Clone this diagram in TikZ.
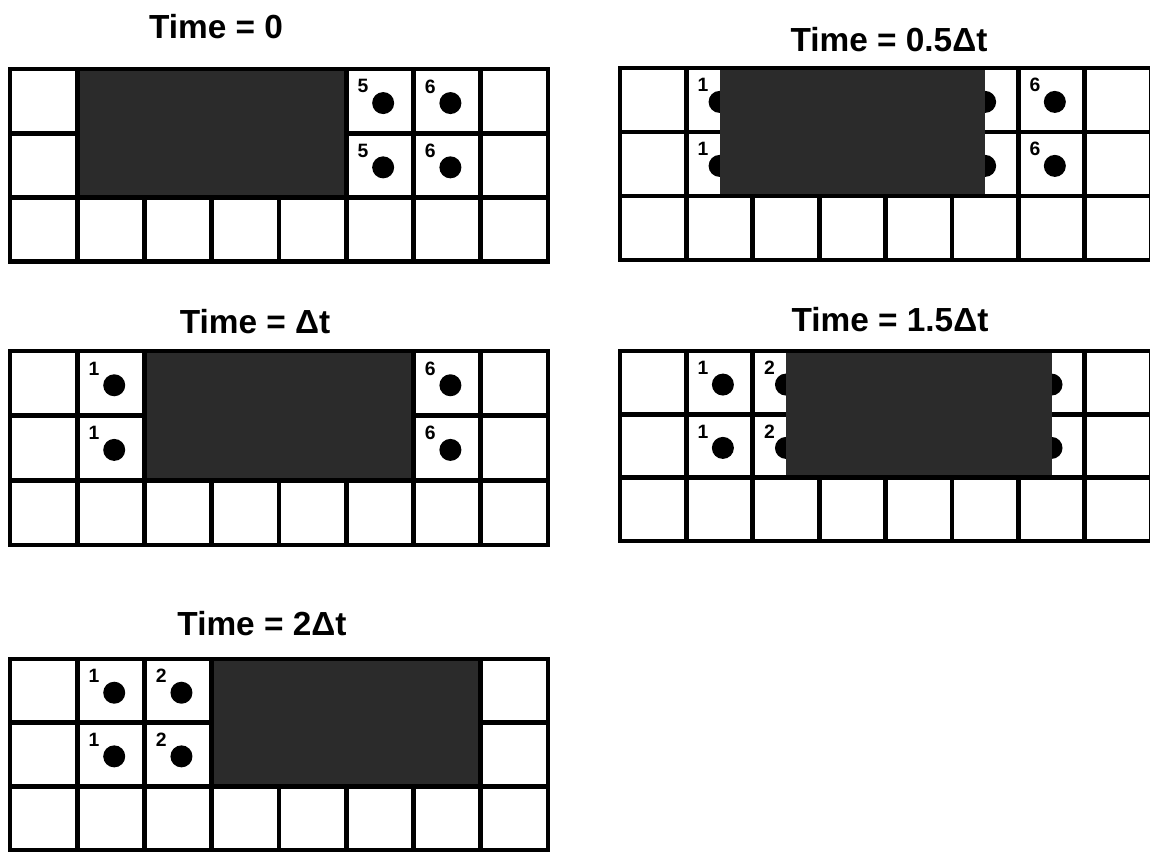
\documentclass[tikz,border=0pt]{standalone}
\usepackage{fontspec}
\setmainfont{Liberation Sans}
\usetikzlibrary{positioning}
\definecolor{cshade}{HTML}{2B2B2B}
\tikzset{
  every picture/.style={font=\bfseries},
  title/.style={font=\fontsize{19}{22}\selectfont\bfseries, inner sep=0pt},
  cellline/.style={line width=2.7pt, line cap=rect},
  slab/.style={fill=cshade},
  dot/.style={fill=black},
  num/.style={font=\fontsize{11}{13}\selectfont\bfseries, inner sep=0pt},
}

\begin{document}
\begin{tikzpicture}[x=0.02cm, y=-0.02cm]
  \useasboundingbox (0,0) rectangle (1150,852);
  % titles
  \node[title] (t0) at (216,27) {Time = 0};
  \node[title] (t05) at (889,40) {Time = 0.5Δt};
  \node[title] (t1) at (255,322) {Time = Δt};
  \node[title] (t15) at (890,320) {Time = 1.5Δt};
  \node[title] (t2) at (262,624) {Time = 2Δt};
  % time = 0
  \begin{scope}[shift={(10,69)}, x=1.345cm, y=-1.286cm]
    \foreach \c in {0,...,8} \draw[cellline] (\c,0) -- (\c,3);
    \foreach \r in {0,...,3} \draw[cellline] (0,\r) -- (8,\r);
    \fill[slab] (1,0) rectangle (5,2);
    \draw[cellline] (0,2) -- (8,2) (1,0) -- (1,2) (5,0) -- (5,2) (0,0) rectangle (8,3);
    \foreach \r in {0,1} {
      \fill[dot] (5.55,\r+0.53) circle[radius=0.22cm];
      \fill[dot] (6.55,\r+0.53) circle[radius=0.22cm];
      \node[num] (a5\r) at (5.25,\r+0.27) {5};
      \node[num] (a6\r) at (6.25,\r+0.27) {6};
    }
  \end{scope}
  % time = 0.5 dt
  \begin{scope}[shift={(620,68)}, x=1.328cm, y=-1.28cm]
    \foreach \c in {0,...,8} \draw[cellline] (\c,0) -- (\c,3);
    \foreach \r in {0,...,3} \draw[cellline] (0,\r) -- (8,\r);
    \foreach \r in {0,1} {
      \fill[dot] (1.5,\r+0.53) circle[radius=0.22cm];
      \fill[dot] (5.5,\r+0.53) circle[radius=0.22cm];
    }
    \fill[slab] (1.5,0) rectangle (5.5,2);
    \draw[cellline] (0,2) -- (8,2) (0,0) rectangle (8,3);
    \foreach \r in {0,1} {
      \fill[dot] (6.55,\r+0.53) circle[radius=0.22cm];
      \node[num] (b1\r) at (1.25,\r+0.27) {1};
      \node[num] (b6\r) at (6.25,\r+0.27) {6};
    }
  \end{scope}
  % time = dt
  \begin{scope}[shift={(10,351)}, x=1.345cm, y=-1.293cm]
    \foreach \c in {0,...,8} \draw[cellline] (\c,0) -- (\c,3);
    \foreach \r in {0,...,3} \draw[cellline] (0,\r) -- (8,\r);
    \fill[slab] (2,0) rectangle (6,2);
    \draw[cellline] (0,2) -- (8,2) (2,0) -- (2,2) (6,0) -- (6,2) (0,0) rectangle (8,3);
    \foreach \r in {0,1} {
      \fill[dot] (1.55,\r+0.53) circle[radius=0.22cm];
      \fill[dot] (6.55,\r+0.53) circle[radius=0.22cm];
      \node[num] (c1\r) at (1.25,\r+0.27) {1};
      \node[num] (c6\r) at (6.25,\r+0.27) {6};
    }
  \end{scope}
  % time = 1.5 dt
  \begin{scope}[shift={(620,351)}, x=1.328cm, y=-1.267cm]
    \foreach \c in {0,...,8} \draw[cellline] (\c,0) -- (\c,3);
    \foreach \r in {0,...,3} \draw[cellline] (0,\r) -- (8,\r);
    \foreach \r in {0,1} {
      \fill[dot] (2.5,\r+0.53) circle[radius=0.22cm];
      \fill[dot] (6.5,\r+0.53) circle[radius=0.22cm];
    }
    \fill[slab] (2.5,0) rectangle (6.5,2);
    \draw[cellline] (0,2) -- (8,2) (0,0) rectangle (8,3);
    \foreach \r in {0,1} {
      \fill[dot] (1.55,\r+0.53) circle[radius=0.22cm];
      \node[num] (d1\r) at (1.25,\r+0.27) {1};
      \node[num] (d2\r) at (2.25,\r+0.27) {2};
    }
  \end{scope}
  % time = 2 dt
  \begin{scope}[shift={(10,659)}, x=1.345cm, y=-1.273cm]
    \foreach \c in {0,...,8} \draw[cellline] (\c,0) -- (\c,3);
    \foreach \r in {0,...,3} \draw[cellline] (0,\r) -- (8,\r);
    \fill[slab] (3,0) rectangle (7,2);
    \draw[cellline] (0,2) -- (8,2) (3,0) -- (3,2) (7,0) -- (7,2) (0,0) rectangle (8,3);
    \foreach \r in {0,1} {
      \fill[dot] (1.55,\r+0.53) circle[radius=0.22cm];
      \fill[dot] (2.55,\r+0.53) circle[radius=0.22cm];
      \node[num] (e1\r) at (1.25,\r+0.27) {1};
      \node[num] (e2\r) at (2.25,\r+0.27) {2};
    }
  \end{scope}
\end{tikzpicture}
\end{document}
